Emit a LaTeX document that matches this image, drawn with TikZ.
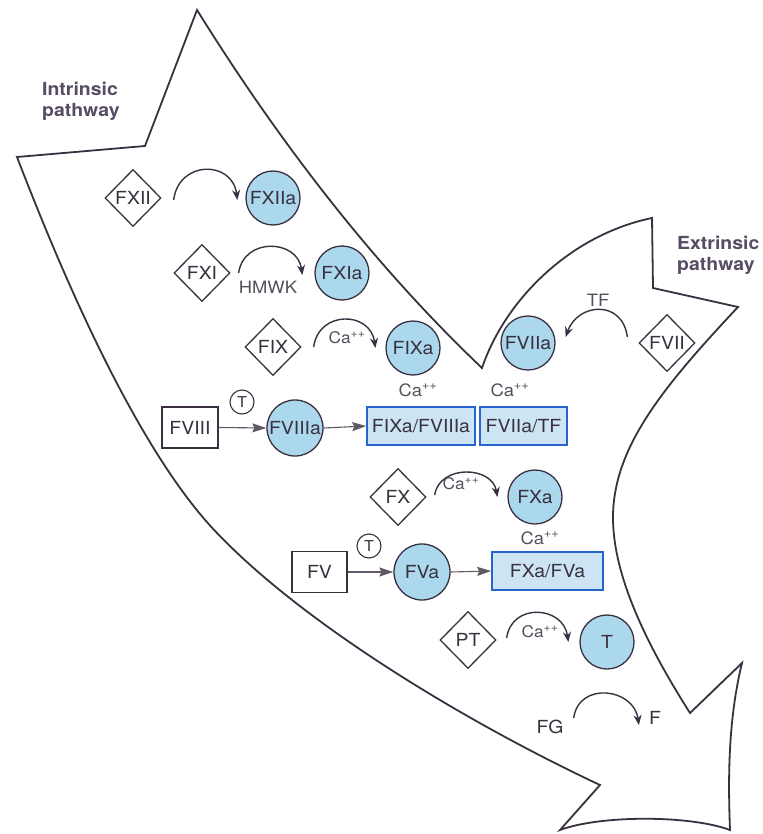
\documentclass[tikz,border=0pt]{standalone}
\usepackage{fontspec}
\setmainfont[FakeStretch=1.08]{TeX Gyre Heros}
\usetikzlibrary{shapes.geometric,arrows.meta}
\definecolor{ln}{RGB}{58,48,64}
\definecolor{txt}{RGB}{55,50,62}
\definecolor{lighttxt}{RGB}{85,80,92}
\definecolor{cfill}{RGB}{172,216,238}
\definecolor{bfill}{RGB}{205,228,244}
\definecolor{bblue}{RGB}{40,100,205}
\definecolor{lab}{RGB}{88,76,100}
\tikzset{
  base/.style={text=txt, font=\fontsize{18}{20}\selectfont},
  dia/.style={diamond, draw=ln, line width=1.3pt, minimum width=56pt, minimum height=57pt, inner sep=0pt, base},
  circ/.style={circle, draw=ln, fill=cfill, line width=1.3pt, minimum size=54pt, inner sep=0pt, base},
  smallc/.style={circle, draw=ln, line width=1.1pt, minimum size=24pt, inner sep=0pt, text=txt, font=\fontsize{15}{16}\selectfont},
  rectbox/.style={draw=ln, line width=1.3pt, minimum width=56pt, minimum height=41pt, inner sep=0pt, base},
  cplx/.style={draw=bblue, fill=bfill, line width=1.6pt, minimum height=38pt, inner sep=0pt, base},
  calab/.style={text=lighttxt, font=\fontsize{17}{18}\selectfont, inner sep=0pt},
  plain/.style={base, inner sep=0pt},
  pathlab/.style={text=lab, font=\bfseries\fontsize{18}{21}\selectfont, align=left, anchor=north west, inner sep=0pt},
  outline/.style={draw=ln, line width=1.8pt, line join=miter},
  arc/.style={draw=ln, line width=1.4pt, -{Stealth[length=10pt,width=8pt]}},
  fwd/.style={draw=ln!80, line width=1.1pt, -{Stealth[length=14pt,width=9pt,inset=2pt]}},
}
\begin{document}
\begin{tikzpicture}[x=1pt,y=-1pt]
\useasboundingbox (0,0) rectangle (762,834);
\fill[white] (0,0) rectangle (762,834);

% big arrow outline
\draw[outline] (197,10) .. controls (286,153) and (381,272) .. (482,368)
  .. controls (505,300) and (570,235) .. (652,218)
  -- (653,288) -- (738,307)
  .. controls (660,390) and (612,450) .. (613,520)
  .. controls (614,580) and (650,650) .. (690,713)
  -- (742,663)
  .. controls (728,720) and (728,780) .. (730,830)
  .. controls (690,815) and (600,815) .. (560,830)
  -- (600,785)
  .. controls (470,724) and (307,627) .. (217,533)
  .. controls (137,450) and (62,274) .. (17,157)
  -- (145,146) -- cycle;

% pathway labels
\node[pathlab] (intr) at (42,82) {Intrinsic\\pathway};
\node[pathlab] (extr) at (677,236) {Extrinsic\\pathway};

% nodes
\node[dia] (FXII) at (133,198) {FXII};
\node[circ] (FXIIa) at (273,198) {FXIIa};
\node[dia] (FXI) at (202,273) {FXI};
\node[circ] (FXIa) at (342,273) {FXIa};
\node[calab] (hmwk) at (268,287) {HMWK};
\node[dia] (FIX) at (273,347) {FIX};
\node[circ] (FIXa) at (413,348) {FIXa};
\node[circ] (FVIIa) at (528,343) {FVIIa};
\node[dia] (FVII) at (667,343) {FVII};
\node[calab] (tf) at (598,300) {TF};

\node[rectbox] (FVIII) at (190,427.5) {FVIII};
\node[smallc] (T1) at (242,402) {T};
\node[circ, minimum size=56pt] (FVIIIa) at (295,428) {FVIIIa};
\node[calab] (ca1) at (418,390) {Ca\textsuperscript{++}};
\node[calab] (ca2) at (510,390) {Ca\textsuperscript{++}};
\node[cplx, minimum width=108pt] (C1) at (421,426) {FIXa/FVIIIa};
\node[cplx, minimum width=87pt] (C2) at (523.5,426) {FVIIa/TF};

\node[dia] (FX) at (398,497) {FX};
\node[circ] (FXa) at (535,497) {FXa};
\node[calab] (ca3) at (540,538) {Ca\textsuperscript{++}};
\node[rectbox, minimum width=55pt] (FV) at (319.5,572) {FV};
\node[smallc] (T2) at (369,546) {T};
\node[circ, minimum size=56pt] (FVa) at (422,572) {FVa};
\node[cplx, minimum width=111pt] (C3) at (547.5,571) {FXa/FVa};

\node[dia] (PT) at (468,640) {PT};
\node[circ] (T) at (607,642) {T};
\node[plain] (FG) at (550,727) {FG};
\node[plain] (F) at (655,718) {F};

% conversion arcs
\draw[arc] ([xshift=12pt,yshift=-2pt]FXII.east) .. controls +(5,-40) and +(-5,-40) .. ([xshift=-8pt,yshift=-2pt]FXIIa.west);
\draw[arc] ([xshift=8pt]FXI.east) .. controls +(5,-36) and +(-5,-36) .. ([xshift=-12pt,yshift=-2pt]FXIa.west);
\draw[arc] ([xshift=12pt]FIX.east) .. controls +(5,-37) and +(-5,-37) .. ([xshift=-10pt]FIXa.west);
\node[calab, font=\fontsize{16}{17}\selectfont] (ca4) at (347,338) {Ca\textsuperscript{++}};
\draw[arc] ([xshift=-11pt,yshift=6pt]FVII.west) .. controls +(-5,-38) and +(12,-34) .. ([xshift=10pt,yshift=6pt]FVIIa.east);
\draw[arc] ([xshift=8pt,yshift=2pt]FX.east) .. controls +(5,-31) and +(-5,-31) .. ([xshift=-10pt]FXa.west);
\node[calab, font=\fontsize{16}{17}\selectfont] (ca5) at (461,484) {Ca\textsuperscript{++}};
\draw[arc] ([xshift=10pt,yshift=2pt]PT.east) .. controls +(5,-36) and +(-5,-36) .. ([xshift=-11pt]T.west);
\node[calab, font=\fontsize{16}{17}\selectfont] (ca6) at (540,632) {Ca\textsuperscript{++}};
\draw[arc] ([xshift=10pt,yshift=9pt]FG.east) .. controls +(5,-37) and +(-5,-37) .. ([xshift=-10pt,yshift=-7pt]F.west);

% activation arrows
\draw[fwd] (FVIII.east) -- (FVIIIa.west);
\draw[fwd] (FVIIIa.east) -- (C1.west);
\draw[fwd] (FV.east) -- (FVa.west);
\draw[fwd] (FVa.east) -- (C3.west);
\end{tikzpicture}
\end{document}
